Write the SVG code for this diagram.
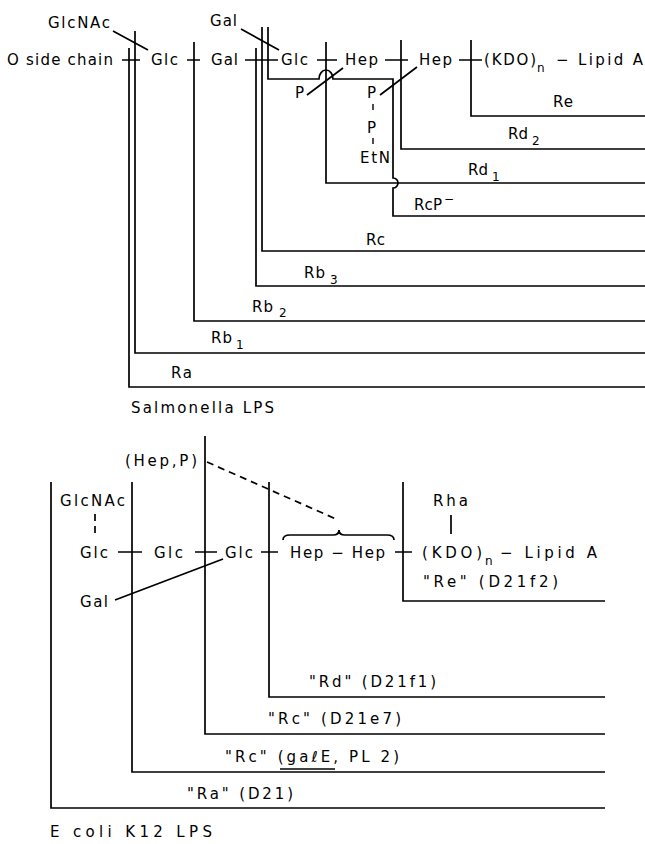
<svg xmlns="http://www.w3.org/2000/svg" width="645" height="844" viewBox="0 0 645 844">
<style>
text{font-family:"DejaVu Sans","Liberation Sans",sans-serif;font-size:15px;fill:#000}
.sub{font-size:12px}
.ln{fill:none;stroke:#000;stroke-width:1.7}
.dash{fill:none;stroke:#000;stroke-width:1.7;stroke-dasharray:7 5}
.thin{fill:none;stroke:#000;stroke-width:1.4}
</style>
<rect width="645" height="844" fill="#fff"/>

<!-- Salmonella LPS -->
<g id="sal-oside"><text x="7" y="65" textLength="106" lengthAdjust="spacing">O side chain</text></g>
<g id="sal-glcnac"><text x="48" y="28" textLength="62" lengthAdjust="spacing">GlcNAc</text></g>
<g id="sal-glc1"><text x="151" y="65" textLength="27" lengthAdjust="spacing">Glc</text></g>
<g id="sal-gal1"><text x="211" y="65" textLength="27" lengthAdjust="spacing">Gal</text></g>
<g id="sal-gal2"><text x="210" y="26" textLength="27" lengthAdjust="spacing">Gal</text></g>
<g id="sal-glc2"><text x="281" y="65" textLength="27" lengthAdjust="spacing">Glc</text></g>
<g id="sal-hep1"><text x="345" y="65" textLength="33" lengthAdjust="spacing">Hep</text></g>
<g id="sal-hep2"><text x="419" y="65" textLength="33" lengthAdjust="spacing">Hep</text></g>
<g id="sal-kdo"><text x="484" y="65" textLength="52" lengthAdjust="spacing">(KDO)</text><text class="sub" x="537" y="72">n</text><text x="556" y="65" textLength="87" lengthAdjust="spacing">− Lipid A</text></g>
<g id="sal-p1"><text x="295" y="98">P</text></g>
<g id="sal-ppetn"><text x="367" y="98">P</text><line class="thin" x1="373" y1="104" x2="373" y2="110"/><text x="367" y="133">P</text><line class="thin" x1="373" y1="138" x2="373" y2="144"/><text x="360" y="163" textLength="30" lengthAdjust="spacing">EtN</text></g>

<g id="sal-labels">
<text x="553" y="107" textLength="20" lengthAdjust="spacing">Re</text>
<text x="508" y="139" textLength="20" lengthAdjust="spacing">Rd</text><text class="sub" x="532" y="145">2</text>
<text x="468" y="175" textLength="20" lengthAdjust="spacing">Rd</text><text class="sub" x="492" y="181">1</text>
<text x="414" y="210" textLength="28" lengthAdjust="spacing">RcP</text><text class="sub" x="444" y="203">−</text>
<text x="366" y="245" textLength="19" lengthAdjust="spacing">Rc</text>
<text x="304" y="278" textLength="21" lengthAdjust="spacing">Rb</text><text class="sub" x="330" y="284">3</text>
<text x="252" y="312" textLength="21" lengthAdjust="spacing">Rb</text><text class="sub" x="279" y="317">2</text>
<text x="211" y="343" textLength="21" lengthAdjust="spacing">Rb</text><text class="sub" x="236" y="349">1</text>
<text x="171" y="378" textLength="21" lengthAdjust="spacing">Ra</text>
<text x="131" y="413" textLength="143" lengthAdjust="spacing">Salmonella LPS</text>
</g>

<!-- E coli K12 LPS -->
<g id="eco-glcnac"><text x="60" y="506" textLength="65" lengthAdjust="spacing">GlcNAc</text></g>
<g id="eco-glc1"><text x="80" y="558" textLength="28" lengthAdjust="spacing">Glc</text></g>
<g id="eco-glc2"><text x="154" y="558" textLength="29" lengthAdjust="spacing">Glc</text></g>
<g id="eco-glc3"><text x="225" y="558" textLength="28" lengthAdjust="spacing">Glc</text></g>
<g id="eco-gal"><text x="80" y="607" textLength="28" lengthAdjust="spacing">Gal</text></g>
<g id="eco-hephep"><text x="290" y="558" textLength="95" lengthAdjust="spacing">Hep − Hep</text></g>
<g id="eco-hepp"><text x="125" y="466" textLength="72" lengthAdjust="spacing">(Hep,P)</text></g>
<g id="eco-rha"><text x="433" y="506" textLength="35" lengthAdjust="spacing">Rha</text></g>
<g id="eco-kdo"><text x="422" y="558" textLength="60" lengthAdjust="spacing">(KDO)</text><text class="sub" x="485" y="565">n</text><text x="500" y="558" textLength="97" lengthAdjust="spacing">− Lipid A</text></g>
<g id="eco-labels">
<text x="423" y="587" textLength="135" lengthAdjust="spacing">"Re" (D21f2)</text>
<text x="309" y="687" textLength="127" lengthAdjust="spacing">"Rd" (D21f1)</text>
<text x="268" y="724" textLength="133" lengthAdjust="spacing">"Rc" (D21e7)</text>
<text x="225" y="762" textLength="174" lengthAdjust="spacing">"Rc" (gaℓE, PL 2)</text>
<line class="thin" x1="280" y1="769" x2="335" y2="769"/>
<text x="187" y="799" textLength="106" lengthAdjust="spacing">"Ra" (D21)</text>
<text x="50" y="837" textLength="162" lengthAdjust="spacing">E coli  K12 LPS</text>
</g>

<g id="connectors">
<!-- Salmonella crosses -->
<path class="ln" d="M122,60H140 M187,60H200 M245,60H278 M317,60H337 M385,60H408 M459,60H482"/>
<!-- branch lines -->
<path class="ln" d="M113,31L148,50 M241,29L279,50 M307,95L343,68 M380,95L417,67"/>
<!-- Salmonella chemotype brackets -->
<path class="ln" d="M471,40V116H645"/>
<path class="ln" d="M401,40V149H645"/>
<path class="ln" d="M326,42V183H645"/>
<path class="ln" d="M268,27V79H319A7,9 0 0 1 333,79H393V178A5,5 0 0 1 393,188V216H645"/>
<path class="ln" d="M262,27V251H645"/>
<path class="ln" d="M256,48V286H645"/>
<path class="ln" d="M194,42V321H645"/>
<path class="ln" d="M135,31V353H645"/>
<path class="ln" d="M129,48V387H645"/>

<!-- E coli crosses -->
<path class="ln" d="M118,552H142 M195,552H217 M261,552H278 M395,552H412"/>
<path class="dash" d="M95,514V537"/>
<path class="ln" d="M451,515V534"/>
<path class="ln" d="M115,600L223,559"/>
<path class="dash" d="M207,462L336,519"/>
<path class="ln" d="M283,540Q283,535 290,535H333Q339,535 339,530Q339,535 345,535H387Q394,535 394,540"/>
<!-- E coli chemotype brackets -->
<path class="ln" d="M403,482V601H605"/>
<path class="ln" d="M269,482V697H605"/>
<path class="ln" d="M205,436V734H605"/>
<path class="ln" d="M132,482V772H605"/>
<path class="ln" d="M51,482V808H605"/>
</g>
</svg>
